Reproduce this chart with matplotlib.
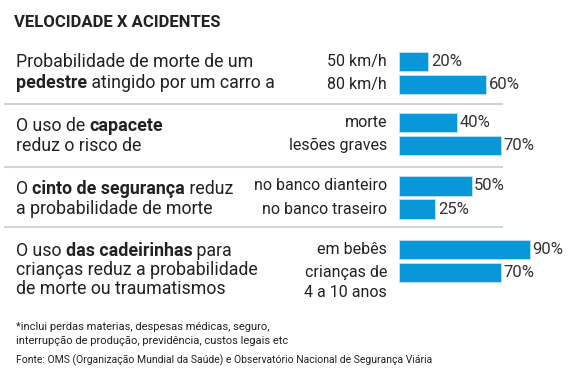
import matplotlib

matplotlib.use("Agg")
import matplotlib.pyplot as plt
from matplotlib import font_manager

title = "VELOCIDADE X ACIDENTES"

# left-hand description of each group: list of lines, each a list of (text, bold)
descriptions = [
    [[("Probabilidade de morte de um", False)],
     [("pedestre", True), (" atingido por um carro a", False)]],
    [[("O uso de ", False), ("capacete", True)],
     [("reduz o risco de", False)]],
    [[("O ", False), ("cinto de segurança", True), (" reduz", False)],
     [("a probabilidade de morte", False)]],
    [[("O uso ", False), ("das cadeirinhas", True), (" para", False)],
     [("crianças reduz a probabilidade", False)],
     [("de morte ou traumatismos", False)]],
]
bar_labels = [
    ["50 km/h", "80 km/h"],
    ["morte", "lesões graves"],
    ["no banco dianteiro", "no banco traseiro"],
    ["em bebês", "crianças de\n4 a 10 anos"],
]
values = [
    [20, 60],
    [40, 70],
    [50, 25],
    [90, 70],
]
footnote = ["*inclui perdas materias, despesas médicas, seguro,",
            "interrupção de produção, previdência, custos legais etc"]
source = "Fonte: OMS (Organização Mundial da Saúde) e Observatório Nacional de Segurança Viária"

W, H = 577, 382
BLUE = "#0a97d9"
TEXT = "#222222"

names = {f.name for f in font_manager.fontManager.ttflist}
FONT = "Liberation Sans Narrow" if "Liberation Sans Narrow" in names else "Roboto"

fig = plt.figure(figsize=(W / 100, H / 100), dpi=100)
fig.patch.set_facecolor("white")

# overlay axes in pixel units for text and rules
ov = fig.add_axes([0, 0, 1, 1])
ov.set_xlim(0, W)
ov.set_ylim(H, 0)
ov.axis("off")

renderer = fig.canvas.get_renderer()


def rich_line(x, y, parts, size):
    for txt, bold in parts:
        t = ov.text(x, y, txt, fontsize=size, family=FONT, color=TEXT,
                    fontweight="bold" if bold else "normal", va="baseline", ha="left")
        x += t.get_window_extent(renderer).width


ov.text(14, 27, title, fontsize=12, family=FONT, fontweight="bold",
        color=TEXT, va="baseline", ha="left")

first_centers = [61.5, 122.5, 186, 249.5]
desc_baselines = [67, 131, 194, 256]
desc_spacing = [21, 20, 20, 19]
rules = [104, 167, 227]
pitch = 23
bar_left = 399
px_per_pct = 1.45

for y in rules:
    ov.plot([4, 503], [y, y], color="#d4d4d4", lw=1.5, solid_capstyle="butt")

for g, (desc, labs, vals) in enumerate(zip(descriptions, bar_labels, values)):
    for i, line in enumerate(desc):
        rich_line(16, desc_baselines[g] + i * desc_spacing[g], line, 12.8)

    c0 = first_centers[g]
    top = c0 - pitch / 2
    ax = fig.add_axes([bar_left / W, 1 - (top + 2 * pitch) / H,
                       100 * px_per_pct / W, 2 * pitch / H])
    ax.barh(range(len(vals)), vals, height=0.84, color=BLUE,
            edgecolor="#bfe3f5", linewidth=0.6)
    ax.set_xlim(0, 100)
    ax.set_ylim(len(vals) - 0.5, -0.5)
    ax.axis("off")
    for i, v in enumerate(vals):
        ax.annotate(f"{v}%", (v, i), xytext=(2, 0), textcoords="offset points",
                    va="center", ha="left", fontsize=12, family=FONT, color="#333333")
    for i, lab in enumerate(labs):
        for k, sub in enumerate(lab.split("\n")):
            ov.text(387, c0 + i * pitch + k * 20, sub, fontsize=11.5, family=FONT,
                    color=TEXT, va="center", ha="right")

for i, line in enumerate(footnote):
    ov.text(16, 327 + i * 14, line, fontsize=8, family=FONT, color=TEXT,
            va="center", ha="left")
ov.text(16, 360, source, fontsize=7.5, family=FONT, color=TEXT, va="center", ha="left")

fig.savefig("out.png", dpi=100)
